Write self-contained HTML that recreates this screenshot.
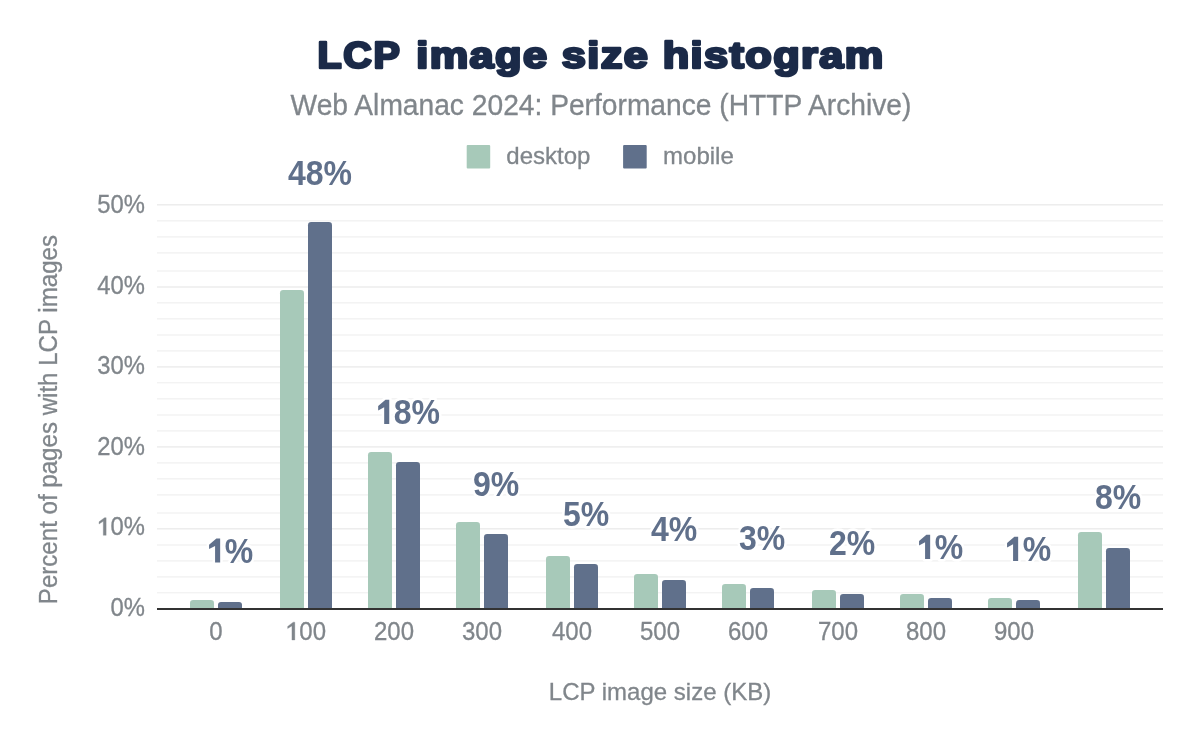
<!DOCTYPE html>
<html><head><meta charset="utf-8"><title>LCP image size histogram</title><style>
html,body{margin:0;padding:0;background:#fff;width:1200px;height:742px;overflow:hidden}
svg{display:block;will-change:transform}
text{font-family:"Liberation Sans",sans-serif}
.title{letter-spacing:1.5px;font-size:38px;font-weight:bold;fill:#1b2a48;stroke:#1b2a48;stroke-width:2.7px;stroke-linejoin:round}
.sub{font-size:28.2px;fill:#80868b;stroke:#80868b;stroke-width:0.3px}
.leg{font-size:24px;fill:#80868b;stroke:#80868b;stroke-width:0.3px}
.lab{fill:#80868b;stroke:#80868b;stroke-width:0.3px}
.xl{font-size:24px}
.yl{font-size:23.8px}
.xt{font-size:24px;fill:#80868b;stroke:#80868b;stroke-width:0.3px}
.yt{font-size:24.1px;fill:#80868b;stroke:#80868b;stroke-width:0.3px}
.ann{font-size:32px;font-weight:bold;fill:#60708b;stroke:#fff;stroke-width:5px;stroke-linejoin:round;paint-order:stroke}
.g1{fill:none;stroke:none}
</style></head><body>
<svg width="1200" height="742" viewBox="0 0 1200 742">
<text transform="translate(317.6,68.0) scale(1.04,0.975)" class="title" style="letter-spacing:1.5px">LCP</text>
<text transform="translate(416.2,68.0) scale(1.14,0.965)" class="title" style="letter-spacing:1.23px">image size histogram</text>
<text transform="translate(601.00,114.80) scale(1.0,1.04)" text-anchor="middle" class="sub">Web Almanac 2024: Performance (HTTP Archive)</text>
<rect x="466.7" y="145" width="23.5" height="23.5" rx="1" fill="#a7c9b9"/>
<text transform="translate(506.30,163.60) scale(1.0,1.0)" text-anchor="start" class="leg">desktop</text>
<rect x="623.1" y="145" width="23.6" height="23.5" rx="1" fill="#60708b"/>
<text transform="translate(663.10,163.60) scale(1.0,1.0)" text-anchor="start" class="leg">mobile</text>
<rect x="157" y="591.95" width="1006" height="1.5" fill="#f3f3f3"/>
<rect x="157" y="576.15" width="1006" height="1.5" fill="#f3f3f3"/>
<rect x="157" y="560.15" width="1006" height="1.5" fill="#f3f3f3"/>
<rect x="157" y="544.25" width="1006" height="1.5" fill="#f3f3f3"/>
<rect x="157" y="528.05" width="1006" height="1.5" fill="#ededed"/>
<rect x="157" y="512.25" width="1006" height="1.5" fill="#f3f3f3"/>
<rect x="157" y="494.15" width="1006" height="1.5" fill="#f3f3f3"/>
<rect x="157" y="478.05" width="1006" height="1.5" fill="#f3f3f3"/>
<rect x="157" y="462.15" width="1006" height="1.5" fill="#f3f3f3"/>
<rect x="157" y="446.15" width="1006" height="1.5" fill="#ededed"/>
<rect x="157" y="430.15" width="1006" height="1.5" fill="#f3f3f3"/>
<rect x="157" y="414.25" width="1006" height="1.5" fill="#f3f3f3"/>
<rect x="157" y="398.05" width="1006" height="1.5" fill="#f3f3f3"/>
<rect x="157" y="381.95" width="1006" height="1.5" fill="#f3f3f3"/>
<rect x="157" y="366.15" width="1006" height="1.5" fill="#ededed"/>
<rect x="157" y="350.15" width="1006" height="1.5" fill="#f3f3f3"/>
<rect x="157" y="334.25" width="1006" height="1.5" fill="#f3f3f3"/>
<rect x="157" y="318.05" width="1006" height="1.5" fill="#f3f3f3"/>
<rect x="157" y="302.05" width="1006" height="1.5" fill="#f3f3f3"/>
<rect x="157" y="286.25" width="1006" height="1.5" fill="#ededed"/>
<rect x="157" y="270.25" width="1006" height="1.5" fill="#f3f3f3"/>
<rect x="157" y="252.15" width="1006" height="1.5" fill="#f3f3f3"/>
<rect x="157" y="236.15" width="1006" height="1.5" fill="#f3f3f3"/>
<rect x="157" y="220.05" width="1006" height="1.5" fill="#f3f3f3"/>
<rect x="157" y="204.05" width="1006" height="1.5" fill="#ededed"/>
<path d="M190,608 V603.2 Q190,600 193.2,600 H210.8 Q214,600 214,603.2 V608 Z" fill="#a7c9b9"/>
<path d="M218,608 V605.0 Q218,602 221.0,602 H239.0 Q242,602 242,605.0 V608 Z" fill="#60708b"/>
<path d="M280,608 V293.2 Q280,290 283.2,290 H300.8 Q304,290 304,293.2 V608 Z" fill="#a7c9b9"/>
<path d="M308,608 V225.2 Q308,222 311.2,222 H328.8 Q332,222 332,225.2 V608 Z" fill="#60708b"/>
<path d="M368,608 V455.2 Q368,452 371.2,452 H388.8 Q392,452 392,455.2 V608 Z" fill="#a7c9b9"/>
<path d="M396,608 V465.2 Q396,462 399.2,462 H416.8 Q420,462 420,465.2 V608 Z" fill="#60708b"/>
<path d="M456,608 V525.2 Q456,522 459.2,522 H476.8 Q480,522 480,525.2 V608 Z" fill="#a7c9b9"/>
<path d="M484,608 V537.2 Q484,534 487.2,534 H504.8 Q508,534 508,537.2 V608 Z" fill="#60708b"/>
<path d="M546,608 V559.2 Q546,556 549.2,556 H566.8 Q570,556 570,559.2 V608 Z" fill="#a7c9b9"/>
<path d="M574,608 V567.2 Q574,564 577.2,564 H594.8 Q598,564 598,567.2 V608 Z" fill="#60708b"/>
<path d="M634,608 V577.2 Q634,574 637.2,574 H654.8 Q658,574 658,577.2 V608 Z" fill="#a7c9b9"/>
<path d="M662,608 V583.2 Q662,580 665.2,580 H682.8 Q686,580 686,583.2 V608 Z" fill="#60708b"/>
<path d="M722,608 V587.2 Q722,584 725.2,584 H742.8 Q746,584 746,587.2 V608 Z" fill="#a7c9b9"/>
<path d="M750,608 V591.2 Q750,588 753.2,588 H770.8 Q774,588 774,591.2 V608 Z" fill="#60708b"/>
<path d="M812,608 V593.2 Q812,590 815.2,590 H832.8 Q836,590 836,593.2 V608 Z" fill="#a7c9b9"/>
<path d="M840,608 V597.2 Q840,594 843.2,594 H860.8 Q864,594 864,597.2 V608 Z" fill="#60708b"/>
<path d="M900,608 V597.2 Q900,594 903.2,594 H920.8 Q924,594 924,597.2 V608 Z" fill="#a7c9b9"/>
<path d="M928,608 V601.2 Q928,598 931.2,598 H948.8 Q952,598 952,601.2 V608 Z" fill="#60708b"/>
<path d="M988,608 V601.2 Q988,598 991.2,598 H1008.8 Q1012,598 1012,601.2 V608 Z" fill="#a7c9b9"/>
<path d="M1016,608 V603.2 Q1016,600 1019.2,600 H1036.8 Q1040,600 1040,603.2 V608 Z" fill="#60708b"/>
<path d="M1078,608 V535.2 Q1078,532 1081.2,532 H1098.8 Q1102,532 1102,535.2 V608 Z" fill="#a7c9b9"/>
<path d="M1106,608 V551.2 Q1106,548 1109.2,548 H1126.8 Q1130,548 1130,551.2 V608 Z" fill="#60708b"/>
<rect x="157" y="608" width="1006" height="2" fill="#333333"/>
<path transform="translate(230.00,562.60) scale(1.0,1.1) translate(-23.125,0) scale(0.015625,-0.015625)" d="M525,0 L525,973 L140,786 L140,1042 L608,1409 L850,1409 L850,0 Z" fill="#fff" stroke="#fff" stroke-width="320.0" stroke-linejoin="round"/>
<text transform="translate(230.00,562.60) scale(1.0,1.1)" text-anchor="middle" class="ann"><tspan class="g1">1</tspan>%</text>
<path transform="translate(230.00,562.60) scale(1.0,1.1) translate(-23.125,0) scale(0.015625,-0.015625)" d="M525,0 L525,973 L140,786 L140,1042 L608,1409 L850,1409 L850,0 Z" fill="#60708b"/>
<text transform="translate(320.00,184.75) scale(1.0,1.1)" text-anchor="middle" class="ann">48%</text>
<path transform="translate(408.00,424.00) scale(1.0,1.1) translate(-32.023,0) scale(0.015625,-0.015625)" d="M525,0 L525,973 L140,786 L140,1042 L608,1409 L850,1409 L850,0 Z" fill="#fff" stroke="#fff" stroke-width="320.0" stroke-linejoin="round"/>
<text transform="translate(408.00,424.00) scale(1.0,1.1)" text-anchor="middle" class="ann"><tspan class="g1">1</tspan>8%</text>
<path transform="translate(408.00,424.00) scale(1.0,1.1) translate(-32.023,0) scale(0.015625,-0.015625)" d="M525,0 L525,973 L140,786 L140,1042 L608,1409 L850,1409 L850,0 Z" fill="#60708b"/>
<text transform="translate(496.00,496.30) scale(1.0,1.1)" text-anchor="middle" class="ann">9%</text>
<text transform="translate(586.00,525.50) scale(1.0,1.1)" text-anchor="middle" class="ann">5%</text>
<text transform="translate(674.00,540.60) scale(1.0,1.1)" text-anchor="middle" class="ann">4%</text>
<text transform="translate(762.00,550.00) scale(1.0,1.1)" text-anchor="middle" class="ann">3%</text>
<text transform="translate(852.00,554.75) scale(1.0,1.1)" text-anchor="middle" class="ann">2%</text>
<path transform="translate(940.00,558.90) scale(1.0,1.1) translate(-23.125,0) scale(0.015625,-0.015625)" d="M525,0 L525,973 L140,786 L140,1042 L608,1409 L850,1409 L850,0 Z" fill="#fff" stroke="#fff" stroke-width="320.0" stroke-linejoin="round"/>
<text transform="translate(940.00,558.90) scale(1.0,1.1)" text-anchor="middle" class="ann"><tspan class="g1">1</tspan>%</text>
<path transform="translate(940.00,558.90) scale(1.0,1.1) translate(-23.125,0) scale(0.015625,-0.015625)" d="M525,0 L525,973 L140,786 L140,1042 L608,1409 L850,1409 L850,0 Z" fill="#60708b"/>
<path transform="translate(1028.00,560.90) scale(1.0,1.1) translate(-23.125,0) scale(0.015625,-0.015625)" d="M525,0 L525,973 L140,786 L140,1042 L608,1409 L850,1409 L850,0 Z" fill="#fff" stroke="#fff" stroke-width="320.0" stroke-linejoin="round"/>
<text transform="translate(1028.00,560.90) scale(1.0,1.1)" text-anchor="middle" class="ann"><tspan class="g1">1</tspan>%</text>
<path transform="translate(1028.00,560.90) scale(1.0,1.1) translate(-23.125,0) scale(0.015625,-0.015625)" d="M525,0 L525,973 L140,786 L140,1042 L608,1409 L850,1409 L850,0 Z" fill="#60708b"/>
<text transform="translate(1118.00,508.70) scale(1.0,1.1)" text-anchor="middle" class="ann">8%</text>
<text transform="translate(216.00,640.00) scale(1.0,1.08)" text-anchor="middle" class="lab xl">0</text>
<text transform="translate(306.00,640.00) scale(1.0,1.08)" text-anchor="middle" class="lab xl"><tspan class="g1">1</tspan>00</text>
<path transform="translate(306.00,640.00) scale(1.0,1.08) translate(-20.021,0) scale(0.011719,-0.011719)" d="M508,0 L508,1115 L143,900 L143,1076 L614,1409 L756,1409 L756,0 Z" fill="#80868b" stroke="#80868b" stroke-width="25.6"/>
<text transform="translate(394.00,640.00) scale(1.0,1.08)" text-anchor="middle" class="lab xl">200</text>
<text transform="translate(482.00,640.00) scale(1.0,1.08)" text-anchor="middle" class="lab xl">300</text>
<text transform="translate(572.00,640.00) scale(1.0,1.08)" text-anchor="middle" class="lab xl">400</text>
<text transform="translate(660.00,640.00) scale(1.0,1.08)" text-anchor="middle" class="lab xl">500</text>
<text transform="translate(748.00,640.00) scale(1.0,1.08)" text-anchor="middle" class="lab xl">600</text>
<text transform="translate(838.00,640.00) scale(1.0,1.08)" text-anchor="middle" class="lab xl">700</text>
<text transform="translate(926.00,640.00) scale(1.0,1.08)" text-anchor="middle" class="lab xl">800</text>
<text transform="translate(1014.00,640.00) scale(1.0,1.08)" text-anchor="middle" class="lab xl">900</text>
<text transform="translate(145.00,615.94) scale(1.0,1.08)" text-anchor="end" class="lab yl">0%</text>
<text transform="translate(145.00,535.34) scale(1.0,1.08)" text-anchor="end" class="lab yl"><tspan class="g1">1</tspan>0%</text>
<path transform="translate(145.00,535.34) scale(1.0,1.08) translate(-47.635,0) scale(0.011621,-0.011621)" d="M508,0 L508,1115 L143,900 L143,1076 L614,1409 L756,1409 L756,0 Z" fill="#80868b" stroke="#80868b" stroke-width="25.8"/>
<text transform="translate(145.00,454.84) scale(1.0,1.08)" text-anchor="end" class="lab yl">20%</text>
<text transform="translate(145.00,374.24) scale(1.0,1.08)" text-anchor="end" class="lab yl">30%</text>
<text transform="translate(145.00,293.74) scale(1.0,1.08)" text-anchor="end" class="lab yl">40%</text>
<text transform="translate(145.00,213.14) scale(1.0,1.08)" text-anchor="end" class="lab yl">50%</text>
<text transform="translate(660.00,700.00) scale(1.0,1.03)" text-anchor="middle" class="xt">LCP image size (KB)</text>
<text transform="translate(56.9,419.6) rotate(-90) scale(1,1.04)" text-anchor="middle" class="yt">Percent of pages with LCP images</text>
</svg>
</body></html>
